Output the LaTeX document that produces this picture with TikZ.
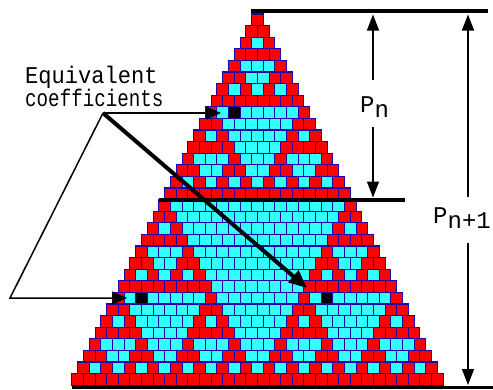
\documentclass[tikz,border=0pt]{standalone}
\usepackage{fontspec}
\setmonofont{Liberation Mono}
\usetikzlibrary{arrows.meta}
\definecolor{cellred}{RGB}{255,0,0}
\definecolor{cellcyan}{RGB}{51,255,255}
\definecolor{cellnavy}{RGB}{34,0,170}
\begin{document}
\begin{tikzpicture}[x=1pt,y=-1pt,
  cellbox/.style={draw=cellnavy,line width=1.1pt},
  bar/.style={line width=4pt},
  dimarrow/.style={line width=1.5pt,-{Triangle[length=16pt,width=12pt]}},
  pointer/.style={line width=1.5pt,-{Triangle[length=15pt,width=13pt]}},
  bigpointer/.style={line width=4pt,-{Triangle[length=18pt,width=15pt]}},
  lbl/.style={font=\ttfamily\fontsize{24}{24}\selectfont, inner sep=0pt, anchor=base west}]
\useasboundingbox (0,0) rectangle (493,389);
\foreach \r in {0,...,31}{
  \foreach \k in {0,...,\r}{
    \pgfmathtruncatemacro\m{\r-\k}
    \pgfmathtruncatemacro\e{mod(\k,2)*mod(\m,2)+mod(floor(\k/2),2)*mod(floor(\m/2),2)+mod(floor(\k/4),2)*mod(floor(\m/4),2)+mod(floor(\k/8),2)*mod(floor(\m/8),2)+mod(floor(\k/16),2)*mod(floor(\m/16),2)}
    \ifnum\e=0 \def\cc{cellred}\else\def\cc{cellcyan}\fi
    \pgfmathsetmacro\cx{257.5+(\k-\r/2)*11.6}
    \pgfmathsetmacro\cy{14+(\r+0.5)*11.6}
    \path[cellbox,fill=\cc] (\cx-5.8,\cy-5.8) rectangle (\cx+5.8,\cy+5.8);
  }
}
% highlighted equivalent coefficients
\node[cellbox,fill=black,minimum size=11.6pt,inner sep=0pt] (eqA) at (234.3,112.6) {};
\node[cellbox,fill=black,minimum size=11.6pt,inner sep=0pt] (eqB) at (141.5,298.2) {};
\node[cellbox,fill=black,minimum size=11.6pt,inner sep=0pt] (eqC) at (327.1,298.2) {};
% level lines
\coordinate (topL) at (251,11);
\coordinate (topR) at (488,11);
\coordinate (midL) at (159,200);
\coordinate (midR) at (405,200);
\coordinate (botL) at (72,387);
\coordinate (botR) at (493,387);
\draw[line width=4.5pt] (topL) -- (topR);
\draw[bar] (midL) -- (midR);
\draw[line width=3pt] (botL) -- (botR);
% dimension arrows
\coordinate (pnA) at (373,80);
\coordinate (pnAt) at (373,14.5);
\coordinate (pnB) at (373,127);
\coordinate (pnBt) at (373,197.5);
\coordinate (pmA) at (468,197);
\coordinate (pmAt) at (468,14.5);
\coordinate (pmB) at (468,243);
\coordinate (pmBt) at (468,385);
\draw[dimarrow] (pnA) -- (pnAt);
\draw[dimarrow] (pnB) -- (pnBt);
\draw[dimarrow] (pmA) -- (pmAt);
\draw[dimarrow] (pmB) -- (pmBt);
\node[lbl] (pn) at (360,112) {P\raisebox{-5pt}{n}};
\node[lbl] (pn1) at (433,223) {P\raisebox{-5pt}{n+1}};
% label and pointers
\node[lbl] (eqa) at (25,83) {\scalebox{0.92}[1]{Equivalent}};
\node[lbl] (eqb) at (25,106) {\scalebox{0.8}[1]{coefficients}};
\coordinate (J) at (103,113);
\coordinate (L) at (10,298);
\coordinate (t1) at (221,113);
\coordinate (t2) at (307,288);
\coordinate (t3) at (127,298);
\draw[pointer] (J) -- (t1);
\draw[bigpointer] (J) -- (t2);
\draw[pointer] (J) -- (L) -- (t3);
\end{tikzpicture}
\end{document}
